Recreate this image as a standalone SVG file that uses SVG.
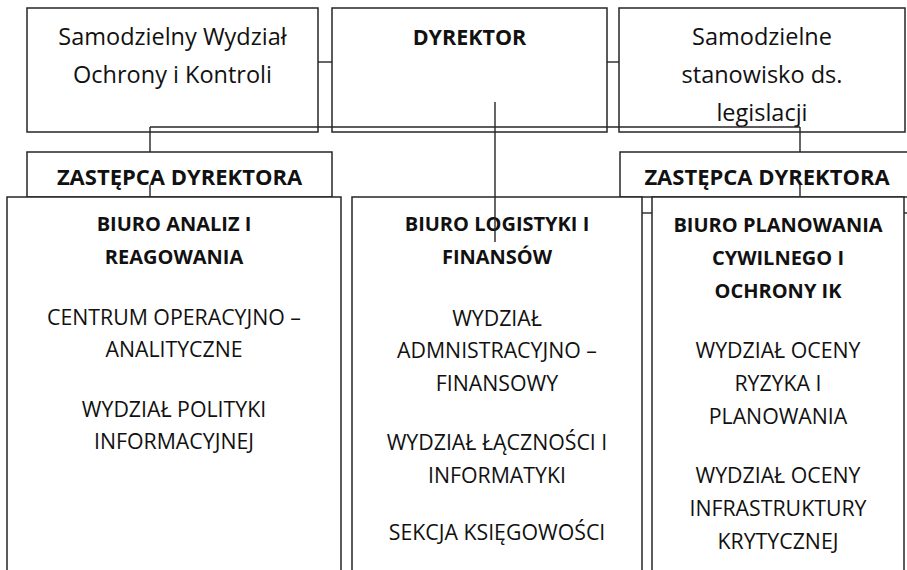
<svg xmlns="http://www.w3.org/2000/svg" width="907" height="570" viewBox="0 0 907 570">
<style>
.box{fill:#fff;stroke:#262626;stroke-width:1.5}
.ln{fill:none;stroke:#262626;stroke-width:1.4}
text{font-family:"Open Sans","Noto Sans",sans-serif;text-anchor:middle;fill:#111}
.top{font-size:23.5px}
.hb{font-size:21.5px;font-weight:bold}
.zb{font-size:22px;font-weight:bold}
.bb{font-size:20px;font-weight:bold}
.r{font-size:21.3px}
</style>
<rect width="907" height="570" fill="#fff"/>
<g id="n-wydzial-ochrony">
<rect class="box" x="27" y="8" width="291" height="124"/>
<text class="top" x="172.5" y="44.5">Samodzielny Wydział</text>
<text class="top" x="172.5" y="82.5">Ochrony i Kontroli</text>
</g>
<g id="n-dyrektor">
<rect class="box" x="332" y="8" width="275" height="124"/>
<text class="hb" x="469.5" y="45">DYREKTOR</text>
</g>
<g id="n-legislacja">
<rect class="box" x="619" y="8" width="286" height="124"/>
<text class="top" x="762" y="44.5">Samodzielne</text>
<text class="top" x="762" y="82.5">stanowisko ds.</text>
<text class="top" x="762" y="120.5">legislacji</text>
</g>
<g id="n-zastepca-1">
<rect class="box" x="27" y="152" width="305" height="45"/>
<text class="zb" x="179.5" y="184.5">ZASTĘPCA DYREKTORA</text>
</g>
<g id="n-zastepca-2">
<rect class="box" x="620" y="152" width="294" height="45"/>
<text class="zb" x="767" y="184.5">ZASTĘPCA DYREKTORA</text>
</g>
<g id="n-biuro-analiz">
<rect class="box" x="7" y="197" width="334" height="390"/>
<text class="bb" x="174" y="231">BIURO ANALIZ I</text>
<text class="bb" x="174" y="263.5">REAGOWANIA</text>
<text class="r" x="174" y="325">CENTRUM OPERACYJNO –</text>
<text class="r" x="174" y="357">ANALITYCZNE</text>
<text class="r" x="174" y="417">WYDZIAŁ POLITYKI</text>
<text class="r" x="174" y="449">INFORMACYJNEJ</text>
</g>
<g id="n-biuro-logistyki">
<rect class="box" x="352" y="197" width="290" height="390"/>
<text class="bb" x="497" y="231">BIURO LOGISTYKI I</text>
<text class="bb" x="497" y="263.5">FINANSÓW</text>
<text class="r" x="497" y="325.5">WYDZIAŁ</text>
<text class="r" x="497" y="357.5">ADMNISTRACYJNO –</text>
<text class="r" x="497" y="390.5">FINANSOWY</text>
<text class="r" x="497" y="449.5">WYDZIAŁ ŁĄCZNOŚCI I</text>
<text class="r" x="497" y="482.5">INFORMATYKI</text>
<text class="r" x="497" y="539.5">SEKCJA KSIĘGOWOŚCI</text>
</g>
<g id="n-biuro-planowania">
<rect class="box" x="652" y="197" width="252" height="390"/>
<text class="bb" x="778" y="231.5">BIURO PLANOWANIA</text>
<text class="bb" x="778" y="264.5">CYWILNEGO I</text>
<text class="bb" x="778" y="297.5">OCHRONY IK</text>
<text class="r" x="778" y="357.5">WYDZIAŁ OCENY</text>
<text class="r" x="778" y="390.5">RYZYKA I</text>
<text class="r" x="778" y="424">PLANOWANIA</text>
<text class="r" x="778" y="482.5">WYDZIAŁ OCENY</text>
<text class="r" x="778" y="515.5">INFRASTRUKTURY</text>
<text class="r" x="778" y="548.5">KRYTYCZNEJ</text>
</g>
<g id="connectors">
<path class="ln" d="M318,62 H332"/>
<path class="ln" d="M607,62 H619"/>
<path class="ln" d="M150,127 H800"/>
<path class="ln" d="M150,127 V152 M150,185 V197"/>
<path class="ln" d="M800,127 V152 M800,185 V197"/>
<path class="ln" d="M495,102 V242"/>
<path class="ln" d="M642,213 H652"/>
<path class="ln" d="M904,213 H907"/>
</g>
</svg>
